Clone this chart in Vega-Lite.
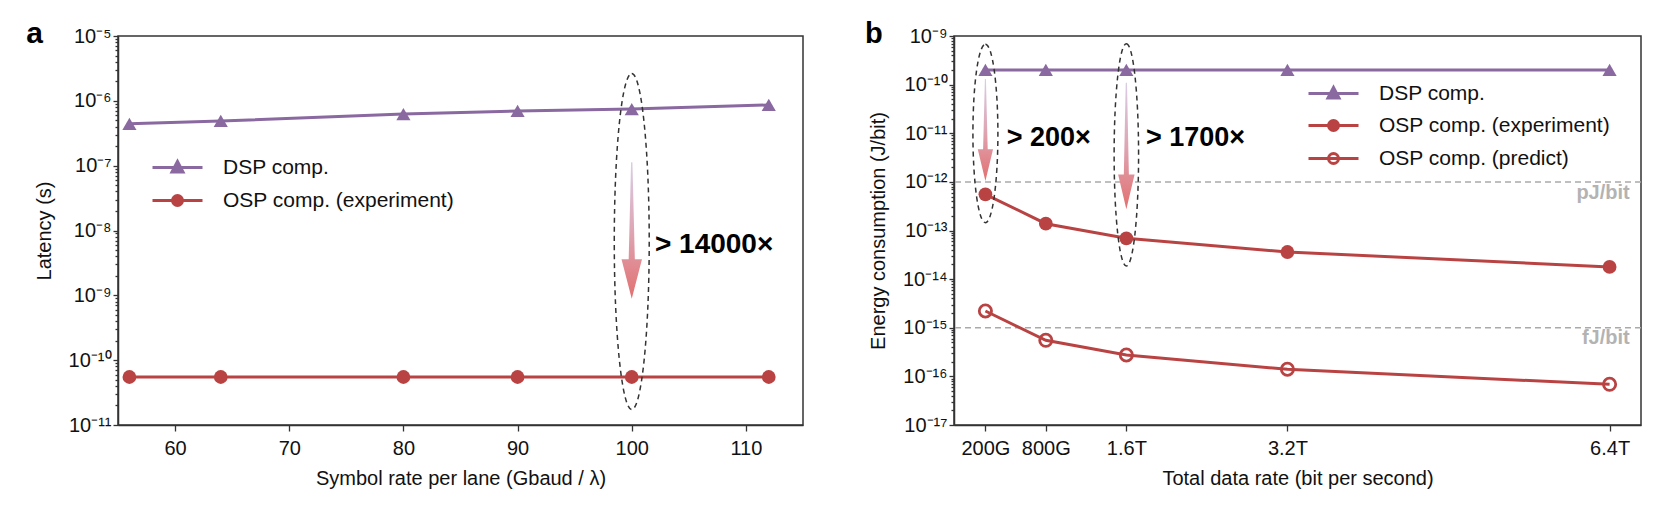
{
  "$schema": "https://vega.github.io/schema/vega-lite/v6.json",
  "padding": {"left": 25, "top": 18, "right": 19, "bottom": 5},
  "spacing": 151,
  "bounds": "flush",
  "resolve": {"scale": {"shape": "independent", "stroke": "independent", "fill": "independent"}, "legend": {"shape": "independent", "stroke": "independent", "fill": "independent"}},
  "datasets": {
    "lat": [
      {"rate": 56, "value": 4.43e-7, "series": "DSP comp."},
      {"rate": 64, "value": 4.89e-7, "series": "DSP comp."},
      {"rate": 80, "value": 6.26e-7, "series": "DSP comp."},
      {"rate": 90, "value": 6.97e-7, "series": "DSP comp."},
      {"rate": 100, "value": 7.48e-7, "series": "DSP comp."},
      {"rate": 112, "value": 8.63e-7, "series": "DSP comp."},
      {"rate": 56, "value": 5.5e-11, "series": "OSP comp. (experiment)"},
      {"rate": 64, "value": 5.5e-11, "series": "OSP comp. (experiment)"},
      {"rate": 80, "value": 5.5e-11, "series": "OSP comp. (experiment)"},
      {"rate": 90, "value": 5.5e-11, "series": "OSP comp. (experiment)"},
      {"rate": 100, "value": 5.5e-11, "series": "OSP comp. (experiment)"},
      {"rate": 112, "value": 5.5e-11, "series": "OSP comp. (experiment)"}
    ],
    "eng": [
      {"rate": 0.2, "value": 2.0e-10, "series": "DSP comp."},
      {"rate": 0.8, "value": 2.0e-10, "series": "DSP comp."},
      {"rate": 1.6, "value": 2.0e-10, "series": "DSP comp."},
      {"rate": 3.2, "value": 2.0e-10, "series": "DSP comp."},
      {"rate": 6.4, "value": 2.0e-10, "series": "DSP comp."},
      {"rate": 0.2, "value": 5.55e-13, "series": "OSP comp. (experiment)"},
      {"rate": 0.8, "value": 1.38e-13, "series": "OSP comp. (experiment)"},
      {"rate": 1.6, "value": 6.9e-14, "series": "OSP comp. (experiment)"},
      {"rate": 3.2, "value": 3.61e-14, "series": "OSP comp. (experiment)"},
      {"rate": 6.4, "value": 1.78e-14, "series": "OSP comp. (experiment)"},
      {"rate": 0.2, "value": 2.21e-15, "series": "OSP comp. (predict)"},
      {"rate": 0.8, "value": 5.52e-16, "series": "OSP comp. (predict)"},
      {"rate": 1.6, "value": 2.75e-16, "series": "OSP comp. (predict)"},
      {"rate": 3.2, "value": 1.40e-16, "series": "OSP comp. (predict)"},
      {"rate": 6.4, "value": 6.87e-17, "series": "OSP comp. (predict)"}
    ],
    "notesL": [
      {"kind": "ellipse", "rate": 100, "value": 6.76e-9},
      {"kind": "arrow", "rate": 100, "value": 1.0e-8},
      {"kind": "text", "rate": 102.03, "value": 5.97e-9, "label": "> 14000×"},
      {"kind": "panel", "rate": 47.69, "value": 1.07e-5, "label": "a"}
    ],
    "notesR": [
      {"kind": "ellipseA", "rate": 0.2, "value": 9.9e-12},
      {"kind": "ellipseB", "rate": 1.6, "value": 3.59e-12},
      {"kind": "arrowA", "rate": 0.2, "value": 1.17e-11},
      {"kind": "arrowB", "rate": 1.6, "value": 5.47e-12},
      {"kind": "text", "rate": 0.4115, "value": 7.8e-12, "label": "> 200×"},
      {"kind": "text", "rate": 1.795, "value": 7.8e-12, "label": "> 1700×"},
      {"kind": "panel", "rate": -0.907, "value": 1.1e-9, "label": "b"}
    ],
    "refs": [
      {"value": 1e-12, "label": "pJ/bit", "rate": 6.6, "labelValue": 5.99e-13},
      {"value": 1e-15, "label": "fJ/bit", "rate": 6.6, "labelValue": 6.07e-16}
    ]
  },
  "hconcat": [
    {
      "width": 685,
      "height": 389,
      "resolve": {"axis": {"y": "independent"}},
      "layer": [
        {
          "data": {"name": "lat"},
          "transform": [{"filter": "datum.series === 'DSP comp.'"}],
          "mark": {"type": "line", "color": "#8a68a0", "strokeWidth": 3},
          "encoding": {
            "x": {"field": "rate", "type": "quantitative", "scale": {"domain": [55, 115], "nice": false, "zero": false},
                  "axis": {"values": [60, 70, 80, 90, 100, 110], "tickSize": 6, "labelPadding": 7, "title": "Symbol rate per lane (Gbaud / λ)", "titlePadding": 10}},
            "y": {"field": "value", "type": "quantitative", "scale": {"type": "log", "domain": [1e-11, 1e-5], "nice": false},
                  "axis": {"orient": "left", "values": [1e-11, 1e-10, 1e-9, 1e-8, 1e-7, 1e-6, 1e-5], "tickSize": 5, "labelPadding": 2, "title": "Latency (s)", "titlePadding": 14,
                           "labelExpr": "'10' + ['⁰','⁻¹','⁻²','⁻³','⁻⁴','⁻⁵','⁻⁶','⁻⁷','⁻⁸','⁻⁹','⁻¹⁰','⁻¹¹','⁻¹²','⁻¹³','⁻¹⁴','⁻¹⁵','⁻¹⁶','⁻¹⁷'][-round(log(datum.value)/LN10)]"}}
          }
        },
        {
          "data": {"name": "lat"},
          "transform": [{"filter": "datum.series === 'OSP comp. (experiment)'"}],
          "mark": {"type": "line", "color": "#b94343", "strokeWidth": 3},
          "encoding": {
            "x": {"field": "rate", "type": "quantitative", "scale": {"domain": [55, 115], "nice": false, "zero": false}},
            "y": {"field": "value", "type": "quantitative", "scale": {"type": "log", "domain": [1e-11, 1e-5], "nice": false},
                  "axis": {"orient": "left", "labels": false, "domain": false, "title": null, "tickSize": 3, "grid": false,
                           "values": [2e-11,3e-11,4e-11,5e-11,6e-11,7e-11,8e-11,9e-11,2e-10,3e-10,4e-10,5e-10,6e-10,7e-10,8e-10,9e-10,2e-9,3e-9,4e-9,5e-9,6e-9,7e-9,8e-9,9e-9,2e-8,3e-8,4e-8,5e-8,6e-8,7e-8,8e-8,9e-8,2e-7,3e-7,4e-7,5e-7,6e-7,7e-7,8e-7,9e-7,2e-6,3e-6,4e-6,5e-6,6e-6,7e-6,8e-6,9e-6]}}
          }
        },
        {
          "data": {"name": "lat"},
          "transform": [{"filter": "datum.series === 'DSP comp.'"}],
          "mark": {"type": "point", "shape": "triangle-up", "filled": true, "color": "#8a68a0", "size": 200, "opacity": 1},
          "encoding": {
            "x": {"field": "rate", "type": "quantitative", "scale": {"domain": [55, 115], "nice": false, "zero": false}},
            "y": {"field": "value", "type": "quantitative", "scale": {"type": "log", "domain": [1e-11, 1e-5], "nice": false}, "axis": null}
          }
        },
        {
          "data": {"name": "lat"},
          "transform": [{"filter": "datum.series === 'OSP comp. (experiment)'"}],
          "mark": {"type": "point", "shape": "circle", "filled": true, "color": "#b94343", "size": 190, "opacity": 1},
          "encoding": {
            "x": {"field": "rate", "type": "quantitative", "scale": {"domain": [55, 115], "nice": false, "zero": false}},
            "y": {"field": "value", "type": "quantitative", "scale": {"type": "log", "domain": [1e-11, 1e-5], "nice": false}, "axis": null}
          }
        },
        {
          "data": {"name": "notesL"},
          "transform": [{"filter": "datum.kind === 'arrow'"}],
          "mark": {"type": "point", "shape": "M-0.01,-1 L0.01,-1 L0.045,0.42 L0.15,0.42 L0,1 L-0.15,0.42 L-0.045,0.42 Z", "filled": true, "size": 18660, "opacity": 1, "strokeWidth": 0,
                   "fill": {"gradient": "linear", "x1": 0, "y1": 0, "x2": 0, "y2": 1, "stops": [{"offset": 0, "color": "#d9cde5"}, {"offset": 0.5, "color": "#dea6b4"}, {"offset": 1, "color": "#e27070"}]}},
          "encoding": {
            "x": {"field": "rate", "type": "quantitative", "scale": {"domain": [55, 115], "nice": false, "zero": false}},
            "y": {"field": "value", "type": "quantitative", "scale": {"type": "log", "domain": [1e-11, 1e-5], "nice": false}, "axis": null}
          }
        },
        {
          "data": {"name": "notesL"},
          "transform": [{"filter": "datum.kind === 'ellipse'"}],
          "mark": {"type": "point", "shape": "M0,-1 A0.104,1 0 1,1 0,1 A0.104,1 0 1,1 0,-1 Z", "filled": false, "size": 112896, "opacity": 1, "color": "#333333", "strokeWidth": 1.5, "strokeDash": [5, 4]},
          "encoding": {
            "x": {"field": "rate", "type": "quantitative", "scale": {"domain": [55, 115], "nice": false, "zero": false}},
            "y": {"field": "value", "type": "quantitative", "scale": {"type": "log", "domain": [1e-11, 1e-5], "nice": false}, "axis": null}
          }
        },
        {
          "data": {"name": "notesL"},
          "transform": [{"filter": "datum.kind === 'text'"}],
          "mark": {"type": "text", "align": "left", "baseline": "middle", "fontSize": 28, "fontWeight": "bold", "font": "Liberation Sans", "color": "#000000"},
          "encoding": {
            "x": {"field": "rate", "type": "quantitative", "scale": {"domain": [55, 115], "nice": false, "zero": false}},
            "y": {"field": "value", "type": "quantitative", "scale": {"type": "log", "domain": [1e-11, 1e-5], "nice": false}, "axis": null},
            "text": {"field": "label", "type": "nominal"}
          }
        },
        {
          "data": {"name": "notesL"},
          "transform": [{"filter": "datum.kind === 'panel'"}],
          "mark": {"type": "text", "align": "center", "baseline": "middle", "fontSize": 30, "fontWeight": "bold", "font": "Liberation Sans", "color": "#000000"},
          "encoding": {
            "x": {"field": "rate", "type": "quantitative", "scale": {"domain": [55, 115], "nice": false, "zero": false}},
            "y": {"field": "value", "type": "quantitative", "scale": {"type": "log", "domain": [1e-11, 1e-5], "nice": false}, "axis": null},
            "text": {"field": "label", "type": "nominal"}
          }
        },
        {
          "data": {"name": "lat"},
          "transform": [{"filter": "false"}],
          "mark": {"type": "point", "filled": true, "size": 400, "strokeWidth": 3, "opacity": 1},
          "encoding": {
            "shape": {"field": "series", "type": "nominal",
                      "scale": {"domain": ["DSP comp.", "OSP comp. (experiment)"], "range": ["M-2.5,0 L2.5,0 M-0.55,0.45 L0,-0.6 L0.55,0.45 Z", "M-2.5,0 L2.5,0 M-0.5,0 A0.5,0.5 0 1,0 0.5,0 A0.5,0.5 0 1,0 -0.5,0 Z"]},
                      "legend": {"orient": "none", "legendX": 48, "legendY": 120, "title": null, "symbolSize": 400, "symbolStrokeWidth": 3, "labelFontSize": 21, "labelOffset": 34, "rowPadding": 11, "padding": 0, "labelLimit": 0}},
            "stroke": {"field": "series", "type": "nominal", "scale": {"domain": ["DSP comp.", "OSP comp. (experiment)"], "range": ["#8a68a0", "#b94343"]}},
            "fill": {"field": "series", "type": "nominal", "scale": {"domain": ["DSP comp.", "OSP comp. (experiment)"], "range": ["#8a68a0", "#b94343"]}}
          }
        }
      ]
    },
    {
      "width": 687,
      "height": 389,
      "resolve": {"axis": {"y": "independent"}},
      "layer": [
        {
          "data": {"name": "refs"},
          "mark": {"type": "rule", "color": "#aaaaaa", "strokeWidth": 1.5, "strokeDash": [6, 4]},
          "encoding": {
            "y": {"field": "value", "type": "quantitative", "scale": {"type": "log", "domain": [1e-17, 1e-9], "nice": false},
                  "axis": {"orient": "left", "values": [1e-17, 1e-16, 1e-15, 1e-14, 1e-13, 1e-12, 1e-11, 1e-10, 1e-9], "tickSize": 5, "labelPadding": 2, "title": "Energy consumption (J/bit)", "titlePadding": 14,
                           "labelExpr": "'10' + ['⁰','⁻¹','⁻²','⁻³','⁻⁴','⁻⁵','⁻⁶','⁻⁷','⁻⁸','⁻⁹','⁻¹⁰','⁻¹¹','⁻¹²','⁻¹³','⁻¹⁴','⁻¹⁵','⁻¹⁶','⁻¹⁷'][-round(log(datum.value)/LN10)]"}}
          }
        },
        {
          "data": {"name": "eng"},
          "transform": [{"filter": "datum.series === 'DSP comp.'"}],
          "mark": {"type": "line", "color": "#8a68a0", "strokeWidth": 3},
          "encoding": {
            "x": {"field": "rate", "type": "quantitative", "scale": {"domain": [-0.112, 6.712], "nice": false, "zero": false},
                  "axis": {"values": [0.2, 0.8, 1.6, 3.2, 6.4], "tickSize": 6, "labelPadding": 7, "title": "Total data rate (bit per second)", "titlePadding": 10,
                           "labelExpr": "datum.value < 0.5 ? '200G' : datum.value < 1 ? '800G' : datum.value < 2 ? '1.6T' : datum.value < 4 ? '3.2T' : '6.4T'"}},
            "y": {"field": "value", "type": "quantitative", "scale": {"type": "log", "domain": [1e-17, 1e-9], "nice": false},
                  "axis": {"orient": "left", "labels": false, "domain": false, "title": null, "tickSize": 3, "grid": false,
                           "values": [2e-17,3e-17,4e-17,5e-17,6e-17,7e-17,8e-17,9e-17,2e-16,3e-16,4e-16,5e-16,6e-16,7e-16,8e-16,9e-16,2e-15,3e-15,4e-15,5e-15,6e-15,7e-15,8e-15,9e-15,2e-14,3e-14,4e-14,5e-14,6e-14,7e-14,8e-14,9e-14,2e-13,3e-13,4e-13,5e-13,6e-13,7e-13,8e-13,9e-13,2e-12,3e-12,4e-12,5e-12,6e-12,7e-12,8e-12,9e-12,2e-11,3e-11,4e-11,5e-11,6e-11,7e-11,8e-11,9e-11,2e-10,3e-10,4e-10,5e-10,6e-10,7e-10,8e-10,9e-10]}}
          }
        },
        {
          "data": {"name": "refs"},
          "mark": {"type": "text", "align": "right", "baseline": "middle", "fontSize": 20, "fontWeight": "bold", "font": "Liberation Sans", "color": "#b3b3b3"},
          "encoding": {
            "x": {"field": "rate", "type": "quantitative", "scale": {"domain": [-0.112, 6.712], "nice": false, "zero": false}},
            "y": {"field": "labelValue", "type": "quantitative", "scale": {"type": "log", "domain": [1e-17, 1e-9], "nice": false}, "axis": null},
            "text": {"field": "label", "type": "nominal"}
          }
        },
        {
          "data": {"name": "eng"},
          "transform": [{"filter": "datum.series === 'OSP comp. (experiment)'"}],
          "mark": {"type": "line", "color": "#b94343", "strokeWidth": 3},
          "encoding": {
            "x": {"field": "rate", "type": "quantitative", "scale": {"domain": [-0.112, 6.712], "nice": false, "zero": false}},
            "y": {"field": "value", "type": "quantitative", "scale": {"type": "log", "domain": [1e-17, 1e-9], "nice": false}, "axis": null}
          }
        },
        {
          "data": {"name": "eng"},
          "transform": [{"filter": "datum.series === 'OSP comp. (predict)'"}],
          "mark": {"type": "line", "color": "#b94343", "strokeWidth": 3},
          "encoding": {
            "x": {"field": "rate", "type": "quantitative", "scale": {"domain": [-0.112, 6.712], "nice": false, "zero": false}},
            "y": {"field": "value", "type": "quantitative", "scale": {"type": "log", "domain": [1e-17, 1e-9], "nice": false}, "axis": null}
          }
        },
        {
          "data": {"name": "eng"},
          "transform": [{"filter": "datum.series === 'DSP comp.'"}],
          "mark": {"type": "point", "shape": "triangle-up", "filled": true, "color": "#8a68a0", "size": 200, "opacity": 1},
          "encoding": {
            "x": {"field": "rate", "type": "quantitative", "scale": {"domain": [-0.112, 6.712], "nice": false, "zero": false}},
            "y": {"field": "value", "type": "quantitative", "scale": {"type": "log", "domain": [1e-17, 1e-9], "nice": false}, "axis": null}
          }
        },
        {
          "data": {"name": "eng"},
          "transform": [{"filter": "datum.series === 'OSP comp. (experiment)'"}],
          "mark": {"type": "point", "shape": "circle", "filled": true, "color": "#b94343", "size": 190, "opacity": 1},
          "encoding": {
            "x": {"field": "rate", "type": "quantitative", "scale": {"domain": [-0.112, 6.712], "nice": false, "zero": false}},
            "y": {"field": "value", "type": "quantitative", "scale": {"type": "log", "domain": [1e-17, 1e-9], "nice": false}, "axis": null}
          }
        },
        {
          "data": {"name": "eng"},
          "transform": [{"filter": "datum.series === 'OSP comp. (predict)'"}],
          "mark": {"type": "point", "shape": "circle", "filled": false, "color": "#b94343", "size": 150, "strokeWidth": 2.8, "opacity": 1},
          "encoding": {
            "x": {"field": "rate", "type": "quantitative", "scale": {"domain": [-0.112, 6.712], "nice": false, "zero": false}},
            "y": {"field": "value", "type": "quantitative", "scale": {"type": "log", "domain": [1e-17, 1e-9], "nice": false}, "axis": null}
          }
        },
        {
          "data": {"name": "notesR"},
          "transform": [{"filter": "datum.kind === 'arrowA'"}],
          "mark": {"type": "point", "shape": "M-0.01,-1 L0.01,-1 L0.045,0.38 L0.15,0.38 L0,1 L-0.15,0.38 L-0.045,0.38 Z", "filled": true, "size": 10404, "opacity": 1, "strokeWidth": 0,
                   "fill": {"gradient": "linear", "x1": 0, "y1": 0, "x2": 0, "y2": 1, "stops": [{"offset": 0, "color": "#d9cde5"}, {"offset": 0.5, "color": "#dea6b4"}, {"offset": 1, "color": "#e27070"}]}},
          "encoding": {
            "x": {"field": "rate", "type": "quantitative", "scale": {"domain": [-0.112, 6.712], "nice": false, "zero": false}},
            "y": {"field": "value", "type": "quantitative", "scale": {"type": "log", "domain": [1e-17, 1e-9], "nice": false}, "axis": null}
          }
        },
        {
          "data": {"name": "notesR"},
          "transform": [{"filter": "datum.kind === 'arrowB'"}],
          "mark": {"type": "point", "shape": "M-0.01,-1 L0.01,-1 L0.04,0.45 L0.13,0.45 L0,1 L-0.13,0.45 L-0.04,0.45 Z", "filled": true, "size": 16028, "opacity": 1, "strokeWidth": 0,
                   "fill": {"gradient": "linear", "x1": 0, "y1": 0, "x2": 0, "y2": 1, "stops": [{"offset": 0, "color": "#d9cde5"}, {"offset": 0.5, "color": "#dea6b4"}, {"offset": 1, "color": "#e27070"}]}},
          "encoding": {
            "x": {"field": "rate", "type": "quantitative", "scale": {"domain": [-0.112, 6.712], "nice": false, "zero": false}},
            "y": {"field": "value", "type": "quantitative", "scale": {"type": "log", "domain": [1e-17, 1e-9], "nice": false}, "axis": null}
          }
        },
        {
          "data": {"name": "notesR"},
          "transform": [{"filter": "datum.kind === 'ellipseA'"}],
          "mark": {"type": "point", "shape": "M0,-1 A0.14,1 0 1,1 0,1 A0.14,1 0 1,1 0,-1 Z", "filled": false, "size": 31827, "opacity": 1, "color": "#333333", "strokeWidth": 1.5, "strokeDash": [5, 4]},
          "encoding": {
            "x": {"field": "rate", "type": "quantitative", "scale": {"domain": [-0.112, 6.712], "nice": false, "zero": false}},
            "y": {"field": "value", "type": "quantitative", "scale": {"type": "log", "domain": [1e-17, 1e-9], "nice": false}, "axis": null}
          }
        },
        {
          "data": {"name": "notesR"},
          "transform": [{"filter": "datum.kind === 'ellipseB'"}],
          "mark": {"type": "point", "shape": "M0,-1 A0.11,1 0 1,1 0,1 A0.11,1 0 1,1 0,-1 Z", "filled": false, "size": 49417, "opacity": 1, "color": "#333333", "strokeWidth": 1.5, "strokeDash": [5, 4]},
          "encoding": {
            "x": {"field": "rate", "type": "quantitative", "scale": {"domain": [-0.112, 6.712], "nice": false, "zero": false}},
            "y": {"field": "value", "type": "quantitative", "scale": {"type": "log", "domain": [1e-17, 1e-9], "nice": false}, "axis": null}
          }
        },
        {
          "data": {"name": "notesR"},
          "transform": [{"filter": "datum.kind === 'text'"}],
          "mark": {"type": "text", "align": "left", "baseline": "middle", "fontSize": 27, "fontWeight": "bold", "font": "Liberation Sans", "color": "#000000"},
          "encoding": {
            "x": {"field": "rate", "type": "quantitative", "scale": {"domain": [-0.112, 6.712], "nice": false, "zero": false}},
            "y": {"field": "value", "type": "quantitative", "scale": {"type": "log", "domain": [1e-17, 1e-9], "nice": false}, "axis": null},
            "text": {"field": "label", "type": "nominal"}
          }
        },
        {
          "data": {"name": "notesR"},
          "transform": [{"filter": "datum.kind === 'panel'"}],
          "mark": {"type": "text", "align": "center", "baseline": "middle", "fontSize": 29, "fontWeight": "bold", "font": "Liberation Sans", "color": "#000000"},
          "encoding": {
            "x": {"field": "rate", "type": "quantitative", "scale": {"domain": [-0.112, 6.712], "nice": false, "zero": false}},
            "y": {"field": "value", "type": "quantitative", "scale": {"type": "log", "domain": [1e-17, 1e-9], "nice": false}, "axis": null},
            "text": {"field": "label", "type": "nominal"}
          }
        },
        {
          "data": {"name": "eng"},
          "transform": [{"filter": "false"}],
          "mark": {"type": "point", "filled": true, "size": 400, "strokeWidth": 3, "opacity": 1},
          "encoding": {
            "shape": {"field": "series", "type": "nominal",
                      "scale": {"domain": ["DSP comp.", "OSP comp. (experiment)", "OSP comp. (predict)"], "range": ["M-2.5,0 L2.5,0 M-0.55,0.45 L0,-0.6 L0.55,0.45 Z", "M-2.5,0 L2.5,0 M-0.5,0 A0.5,0.5 0 1,0 0.5,0 A0.5,0.5 0 1,0 -0.5,0 Z", "M-2.5,0 L2.5,0 M-0.5,0 A0.5,0.5 0 1,0 0.5,0 A0.5,0.5 0 1,0 -0.5,0 Z"]},
                      "legend": {"orient": "none", "legendX": 368, "legendY": 46, "title": null, "symbolSize": 400, "symbolStrokeWidth": 3, "labelFontSize": 21, "labelOffset": 34, "rowPadding": 10, "padding": 0, "labelLimit": 0}},
            "stroke": {"field": "series", "type": "nominal", "scale": {"domain": ["DSP comp.", "OSP comp. (experiment)", "OSP comp. (predict)"], "range": ["#8a68a0", "#b94343", "#b94343"]}},
            "fill": {"field": "series", "type": "nominal", "scale": {"domain": ["DSP comp.", "OSP comp. (experiment)", "OSP comp. (predict)"], "range": ["#8a68a0", "#b94343", "transparent"]}}
          }
        }
      ]
    }
  ],
  "config": {
    "font": "Liberation Sans",
    "view": {"stroke": "#333333", "strokeWidth": 1.5,
             "fill": {"gradient": "linear", "x1": 0, "y1": 0, "x2": 0, "y2": 1, "stops": [{"offset": 0, "color": "#f9f9fc"}, {"offset": 0.45, "color": "#faf6f7"}, {"offset": 1, "color": "#f4e3e4"}]}},
    "axis": {"domainColor": "#333333", "domainWidth": 1.5, "tickColor": "#333333", "tickWidth": 1.3, "labelFont": "Liberation Sans", "labelFontSize": 20, "labelColor": "#111111", "titleFont": "Liberation Sans", "titleFontSize": 20, "titleFontWeight": "normal", "titleColor": "#111111", "grid": false, "labelFlush": false, "labelOverlap": false},
    "legend": {"labelFont": "Liberation Sans", "labelFontSize": 21, "labelColor": "#111111"}
  }
}
